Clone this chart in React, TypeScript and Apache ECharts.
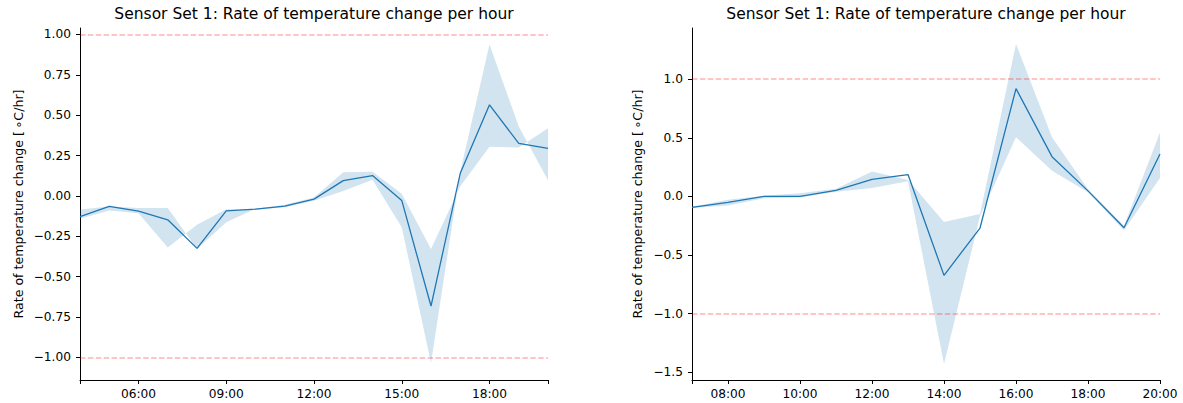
import React, { useEffect, useRef } from "react";
import * as echarts from "echarts";

// ---- Data ----
const titleText = "Sensor Set 1: Rate of temperature change per hour";
const yAxisName = "Rate of temperature change [\u2009∘C/hr]";
const thresholds = [1, -1];

// Left panel (hours 04:00 .. 20:00)
const hoursA = [4, 5, 6, 7, 8, 9, 10, 11, 12, 13, 14, 15, 16, 17, 18, 19, 20];
const meanA = [-0.128, -0.065, -0.094, -0.148, -0.325, -0.092, -0.082, -0.063, -0.02, 0.095, 0.126, -0.028, -0.682, 0.14, 0.564, 0.325, 0.294];
// the two curves the band is filled between (they cross in places)
const bandA1 = [-0.142, -0.09, -0.107, -0.319, -0.178, -0.082, -0.085, -0.07, -0.03, 0.03, 0.1, -0.194, -1.035, 0.15, 0.938, 0.43, 0.097];
const bandA2 = [-0.084, -0.065, -0.074, -0.074, -0.329, -0.163, -0.08, -0.055, -0.01, 0.146, 0.15, 0.013, -0.329, 0.06, 0.304, 0.3, 0.419];
const xTicksA = [4, 6, 9, 12, 15, 18, 20];
const xLabelsA = [6, 9, 12, 15, 18];
const yTicksA = [-1, -0.75, -0.5, -0.25, 0, 0.25, 0.5, 0.75, 1];

// Right panel (hours 07:00 .. 20:00)
const hoursB = [7, 8, 9, 10, 11, 12, 13, 14, 15, 16, 17, 18, 19, 20];
const meanB = [-0.094, -0.051, 0.0, 0.0, 0.051, 0.146, 0.186, -0.674, -0.27, 0.92, 0.339, 0.047, -0.268, 0.362];
const bandB1 = [-0.1, -0.077, -0.015, -0.01, 0.04, 0.071, 0.13, -1.43, -0.17, 0.505, 0.219, 0.035, -0.29, 0.156];
const bandB2 = [-0.088, -0.029, 0.005, 0.026, 0.065, 0.213, 0.14, -0.219, -0.15, 1.3, 0.505, 0.06, -0.25, 0.545];
const xTicksB = [7, 8, 10, 12, 14, 16, 18, 20];
const xLabelsB = [8, 10, 12, 14, 16, 18, 20];
const yTicksB = [-1.5, -1, -0.5, 0, 0.5, 1];

const FONT = "DejaVu Sans";
const TICK_FS = 12.2;
const NAME_FS = 12.6;
const TITLE_FS = 15.5;
const LINE_COLOR = "#1f77b4";
const BAND_COLOR = "rgba(31,119,180,0.2)";

const pad2 = (n: number) => (n < 10 ? "0" + n : "" + n);
const hourFmt = (v: number) => pad2(Math.round(v)) + ":00";
const numFmt = (d: number) => (v: number) => {
  const s = Math.abs(v) < 1e-9 ? (0).toFixed(d) : v.toFixed(d);
  return s.replace("-", "\u2212");
};

function makeXAxis(idx: number, min: number, max: number, ticks: number[], labels: number[]) {
  return {
    type: "value",
    gridIndex: idx,
    min,
    max,
    axisLine: { show: true, onZero: false, lineStyle: { color: "#000", width: 1 } },
    axisTick: { show: true, customValues: ticks, length: 4, lineStyle: { color: "#000", width: 1 } },
    axisLabel: {
      customValues: labels,
      formatter: hourFmt,
      margin: 8,
      color: "#000",
      fontSize: TICK_FS,
      fontFamily: FONT,
    },
    splitLine: { show: false },
  };
}

function makeYAxis(idx: number, min: number, max: number, ticks: number[], dec: number, gap: number) {
  return {
    type: "value",
    gridIndex: idx,
    min,
    max,
    name: yAxisName,
    nameLocation: "middle",
    nameGap: gap,
    nameTextStyle: { color: "#000", fontSize: NAME_FS, fontFamily: FONT },
    axisLine: { show: true, onZero: false, lineStyle: { color: "#000", width: 1 } },
    axisTick: { show: true, customValues: ticks, length: 4, lineStyle: { color: "#000", width: 1 } },
    axisLabel: {
      customValues: ticks,
      formatter: numFmt(dec),
      margin: 9,
      color: "#000",
      fontSize: TICK_FS,
      fontFamily: FONT,
    },
    splitLine: { show: false },
  };
}

function makeSeries(idx: number, hours: number[], mean: number[], c1: number[], c2: number[]) {
  return [
    {
      type: "custom",
      xAxisIndex: idx,
      yAxisIndex: idx,
      silent: true,
      z: 1,
      data: hours.map((h, i) => [h, c1[i], c2[i]]),
      encode: { x: 0, y: [1, 2] },
      renderItem: (params: any, api: any) => {
        if (params.dataIndex !== 0) return null;
        const first = hours.map((h, i) => api.coord([h, c1[i]]));
        const second = hours.map((h, i) => api.coord([h, c2[i]])).reverse();
        return {
          type: "polygon",
          shape: { points: first.concat(second) },
          style: { fill: BAND_COLOR, stroke: "none" },
        };
      },
    },
    {
      type: "line",
      xAxisIndex: idx,
      yAxisIndex: idx,
      data: hours.map((h, i) => [h, mean[i]]),
      symbol: "none",
      lineStyle: { color: LINE_COLOR, width: 1.3 },
      z: 3,
      markLine: {
        silent: true,
        symbol: ["none", "none"],
        label: { show: false },
        lineStyle: { color: "rgba(255,0,0,0.3)", type: [5.5, 2.4], width: 1.5 },
        data: thresholds.map((v) => ({ yAxis: v })),
      },
    },
  ];
}

export default function App() {
  const ref = useRef<HTMLDivElement | null>(null);
  useEffect(() => {
    if (!ref.current) return;
    const chart = echarts.init(ref.current, undefined, { renderer: "svg" });
    chart.setOption({
      animation: false,
      backgroundColor: "#fff",
      title: [
        {
          text: titleText,
          left: 314,
          top: 6,
          textAlign: "center",
          padding: 0,
          textStyle: { color: "#000", fontSize: TITLE_FS, fontWeight: "normal", fontFamily: FONT },
        },
        {
          text: titleText,
          left: 926,
          top: 6,
          textAlign: "center",
          padding: 0,
          textStyle: { color: "#000", fontSize: TITLE_FS, fontWeight: "normal", fontFamily: FONT },
        },
      ],
      grid: [
        { left: 80, top: 28, width: 468, height: 352 },
        { left: 692, top: 28, width: 468, height: 352 },
      ],
      xAxis: [
        makeXAxis(0, 4, 20, xTicksA, xLabelsA),
        makeXAxis(1, 7, 20, xTicksB, xLabelsB),
      ],
      yAxis: [
        makeYAxis(0, -1.14, 1.04, yTicksA, 2, 55),
        makeYAxis(1, -1.567, 1.437, yTicksB, 1, 48),
      ],
      series: [
        ...makeSeries(0, hoursA, meanA, bandA1, bandA2),
        ...makeSeries(1, hoursB, meanB, bandB1, bandB2),
      ],
    });
    return () => chart.dispose();
  }, []);
  return (
    <div
      ref={ref}
      style={{ position: "absolute", left: 0, top: 0, width: 1183, height: 403 }}
    />
  );
}
